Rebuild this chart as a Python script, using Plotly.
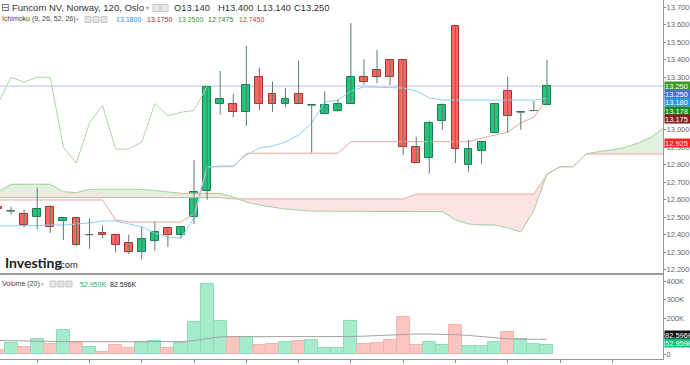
import plotly.graph_objects as go

# ---------------- data ----------------
opens  = [12.56, 12.535, 12.52, 12.50, 12.557, 12.48, 12.495, 12.40, 12.41, 12.40, 12.355, 12.30, 12.367, 12.437, 12.40,
          12.50, 12.65, 13.15, 13.15, 13.10, 13.30, 13.205, 13.15, 13.205, 13.14, 13.09, 13.11, 13.15, 13.30, 13.34,
          13.40, 13.40, 12.90, 12.84, 13.05, 13.595, 12.80, 12.88, 12.98, 13.22, 13.10, 13.11, 13.14]
highs  = [12.565, 12.56, 12.545, 12.67, 12.57, 12.495, 12.50, 12.495, 12.455, 12.40, 12.40, 12.445, 12.475, 12.44, 12.443,
          12.827, 13.25, 13.336, 13.205, 13.479, 13.355, 13.275, 13.24, 13.395, 13.14, 13.22, 13.174, 13.61, 13.403, 13.456,
          13.40, 13.40, 12.96, 13.052, 13.151, 13.60, 12.942, 12.93, 13.15, 13.303, 13.10, 13.165, 13.40]
lows   = [12.545, 12.515, 12.445, 12.43, 12.41, 12.37, 12.335, 12.32, 12.38, 12.30, 12.29, 12.26, 12.31, 12.33, 12.38,
          12.462, 12.60, 13.087, 13.071, 13.022, 13.113, 13.103, 13.129, 13.15, 12.87, 13.09, 13.103, 13.15, 13.256, 13.266,
          13.256, 12.855, 12.81, 12.75, 12.999, 12.81, 12.76, 12.805, 12.98, 12.983, 13.00, 13.11, 13.14]
closes = [12.55, 12.535, 12.455, 12.545, 12.446, 12.495, 12.34, 12.40, 12.40, 12.34, 12.30, 12.375, 12.418, 12.40, 12.443,
          12.646, 13.245, 13.175, 13.10, 13.254, 13.15, 13.15, 13.175, 13.15, 13.14, 13.14, 13.15, 13.30, 13.273, 13.30,
          13.30, 12.90, 12.81, 13.04, 13.14, 12.89, 12.89, 12.93, 13.15, 13.08, 13.10, 13.11, 13.25]
volume_k = [24, 62, 38, 83, 57, 134, 60, 40, 14, 53, 35, 68, 75, 33, 60, 178, 386, 185, 97, 97, 51, 57, 68, 73, 79,
            35, 35, 183, 57, 62, 79, 205, 51, 70, 51, 161, 46, 48, 68, 123, 83, 57, 52.959]
volume_ma_k = [76, 74, 72, 71, 70, 70, 70, 69, 67, 66, 66, 68, 70, 70, 70, 76, 88, 96, 97, 97, 97, 97, 97, 98, 99,
               96, 95, 98, 100, 103, 108, 111, 112, 112, 111, 108, 104, 98, 90, 85, 83, 83, 82.596]
tenkan = [12.45, 12.45, 12.45, 12.453, 12.456, 12.456, 12.462, 12.468, 12.479, 12.479, 12.462, 12.445, 12.41, 12.387,
          12.381, 12.496, 12.787, 12.793, 12.793, 12.856, 12.896, 12.907, 12.93, 12.97, 13.039, 13.159, 13.17, 13.222,
          13.245, 13.242, 13.241, 13.239, 13.222, 13.182, 13.17, 13.17, 13.17, 13.17, 13.17, 13.17, 13.17, 13.17, 13.18]
kijun = [12.599, 12.599, 12.599, 12.599, 12.599, 12.599, 12.599, 12.599, 12.599, 12.485, 12.473, 12.473, 12.473, 12.473,
         12.473, 12.519, 12.787, 12.789, 12.789, 12.866, 12.866, 12.866, 12.866, 12.866, 12.866, 12.866, 12.866, 12.932,
         12.932, 12.932, 12.932, 12.932, 12.932, 12.932, 12.932, 12.932, 12.932, 12.953, 12.97, 12.987, 13.039, 13.073, 13.175]
senkou_a = [12.645, 12.689, 12.689, 12.689, 12.689, 12.646, 12.641, 12.66, 12.66, 12.66, 12.66, 12.66, 12.653, 12.646,
            12.637, 12.637, 12.637, 12.637, 12.616, 12.587, 12.570, 12.559, 12.547, 12.541, 12.535, 12.535, 12.535,
            12.535, 12.532, 12.532, 12.532, 12.532, 12.532, 12.532, 12.532, 12.485, 12.462, 12.456, 12.456, 12.439,
            12.416, 12.541, 12.7475, 12.789, 12.789, 12.862, 12.876, 12.885, 12.90, 12.925, 12.959, 13.016]
senkou_b = [12.613] * 18 + [12.605] * 14 + [12.633] * 10 + [12.745, 12.789, 12.789] + [12.862] * 7
lag_shift = 26
last_price = 13.25
price_ticks = [12.2, 12.3, 12.4, 12.5, 12.6, 12.7, 12.8, 12.9, 13.0, 13.1, 13.2, 13.3, 13.4, 13.5, 13.6, 13.7]
vol_ticks = [0, 100, 200, 300, 400]
vol_tick_text = ["0", "100K", "200K", "300K", "400K"]
time_tick_idx = [3, 7, 11, 15, 19, 23, 27, 31, 35, 39, 43, 47]
time_tick_text = ["10", "", "", "", "", "", "2020", "", "", "", "", ""]

# ---------------- geometry ----------------
W, H = 690, 365
ML, MR, MT, MB = 0, 27, 0, 6
PW, PH = W - ML - MR, H - MT - MB
def X(px): return (px - ML) / PW
def Y(py): return 1 - (py - MT) / PH
def price_at(py): return 13.7 - (py - 7.3) / 175.0
def vol_at(py): return (354.3 - py) / 18.15 * 100.0
SEP = 274
XR = [2 / 13.07, 2 / 13.07 + PW / 13.07]

n = len(opens)
idx = list(range(n))
up = [c >= o for o, c in zip(opens, closes)]

GREEN, GREEN_E = "#1fc67c", "#17804f"
RED, RED_E = "#fb6660", "#a5342e"
WICK = "#5e7a6c"

fig = go.Figure()

# ---- cloud fill ----
def cloud_runs(a, b):
    pts = []
    for k in range(len(a)):
        if k > 0:
            d0, d1 = a[k-1] - b[k-1], a[k] - b[k]
            if d0 * d1 < 0:
                t = d0 / (d0 - d1)
                xc = k - 1 + t
                yc = a[k-1] + t * (a[k] - a[k-1])
                pts.append((xc, yc, yc))
        pts.append((k, a[k], b[k]))
    runs, cur, sign = [], [], None
    for p in pts:
        d = p[1] - p[2]
        s = sign if abs(d) < 1e-9 else (d > 0)
        if sign is None:
            sign = s
        if s != sign:
            cur.append(p)
            runs.append((sign, cur))
            cur = [p]
            sign = s
        else:
            cur.append(p)
    runs.append((sign, cur))
    return runs

gx, gy, rx, ry = [], [], [], []
for s, run in cloud_runs(senkou_a, senkou_b):
    xs = [p[0] for p in run] + [p[0] for p in reversed(run)]
    ys = [p[1] for p in run] + [p[2] for p in reversed(run)]
    if s:
        gx += xs + [None]; gy += ys + [None]
    else:
        rx += xs + [None]; ry += ys + [None]
fig.add_trace(go.Scatter(x=gx, y=gy, fill="toself", fillcolor="#e2f1df", line=dict(width=0),
                         mode="lines", hoverinfo="skip", showlegend=False))
fig.add_trace(go.Scatter(x=rx, y=ry, fill="toself", fillcolor="#fde3e3", line=dict(width=0),
                         mode="lines", hoverinfo="skip", showlegend=False))
fig.add_trace(go.Scatter(x=list(range(len(senkou_b))), y=senkou_b, mode="lines",
                         line=dict(color="#f2a7a7", width=1), showlegend=False))
fig.add_trace(go.Scatter(x=list(range(len(senkou_a))), y=senkou_a, mode="lines",
                         line=dict(color="#9fd09a", width=1), showlegend=False))

# price line
fig.add_shape(type="line", xref="paper", x0=0, x1=1, yref="y", y0=last_price, y1=last_price,
              line=dict(color="#b9c0ea", width=1), layer="below")

# lagging span
lag_x = [i - lag_shift for i in range(lag_shift, n)]
fig.add_trace(go.Scatter(x=lag_x, y=closes[lag_shift:], mode="lines",
                         line=dict(color="#a9d9a3", width=1), showlegend=False))
# tenkan / kijun
fig.add_trace(go.Scatter(x=idx, y=kijun, mode="lines", line=dict(color="#eaa3a0", width=1), showlegend=False))
fig.add_trace(go.Scatter(x=idx, y=tenkan, mode="lines", line=dict(color="#93cdf3", width=1), showlegend=False))

# wicks (+ doji bars)
wx, wy = [], []
for i in idx:
    wx += [i, i, None]; wy += [lows[i], highs[i], None]
    if abs(opens[i] - closes[i]) < 1e-9:
        wx += [i - 0.3, i + 0.3, None]; wy += [opens[i], opens[i], None]
fig.add_trace(go.Scatter(x=wx, y=wy, mode="lines", line=dict(color=WICK, width=1), showlegend=False))

# bodies
fig.add_trace(go.Bar(x=idx, y=[abs(c - o) for o, c in zip(opens, closes)],
                     base=[min(o, c) for o, c in zip(opens, closes)], width=0.6,
                     marker=dict(color=[GREEN if u else RED for u in up],
                                 line=dict(color=[GREEN_E if u else RED_E for u in up], width=1)),
                     showlegend=False))

# volume
fig.add_trace(go.Bar(x=idx, y=volume_k, width=1.0, xaxis="x2", yaxis="y2",
                     marker=dict(color=["#a7ebcd" if u else "#fdc5c0" for u in up],
                                 line=dict(color=["#8fdcbc" if u else "#f7b3ad" for u in up], width=1)),
                     showlegend=False))
fig.add_trace(go.Scatter(x=idx, y=volume_ma_k, mode="lines", xaxis="x2", yaxis="y2",
                         line=dict(color="#a3a3a3", width=1), showlegend=False))

FONT = "Liberation Sans"
AX_FONT = dict(size=7.5, color="#666", family=FONT)
fig.update_layout(
    width=W, height=H, margin=dict(l=ML, r=MR, t=MT, b=MB, autoexpand=False),
    paper_bgcolor="white", plot_bgcolor="white", barmode="overlay", bargap=0,
    font=dict(family=FONT, color="#444"),
    xaxis=dict(domain=[0, 1], range=XR, anchor="y", showgrid=False, zeroline=False,
               showticklabels=False, ticks="", automargin=False),
    xaxis2=dict(domain=[0, 1], range=XR, anchor="y2", showgrid=False, zeroline=False,
                tickmode="array", tickvals=time_tick_idx, ticktext=time_tick_text,
                ticks="outside", ticklen=3, tickcolor="#888", showline=True, linecolor="#999",
                tickfont=dict(size=8, color="#666", family=FONT), automargin=False),
    yaxis=dict(domain=[Y(SEP), 1], range=[price_at(SEP), price_at(0)], side="right",
               showgrid=False, zeroline=False, tickmode="array", tickvals=price_ticks,
               ticktext=["%.3f" % t for t in price_ticks], ticks="outside", ticklen=2,
               tickcolor="#888", showline=True, linecolor="#999", tickfont=AX_FONT,
               ticklabelstandoff=-1, automargin=False),
    yaxis2=dict(domain=[0, Y(SEP)], range=[vol_at(PH + MT), vol_at(SEP)], side="right",
                showgrid=False, zeroline=False, tickmode="array", tickvals=vol_ticks,
                ticktext=vol_tick_text, ticks="outside", ticklen=2, tickcolor="#888",
                showline=True, linecolor="#999", tickfont=AX_FONT, ticklabelstandoff=-1,
                automargin=False),
)

# separator between panes
fig.add_shape(type="line", xref="paper", yref="paper", x0=0, x1=1, y0=Y(SEP), y1=Y(SEP),
              line=dict(color="#9a9a9a", width=2))

ann = []
def txt(px, py, s, size, color, bold=False, family=FONT):
    ann.append(dict(x=X(px), y=Y(py), xref="paper", yref="paper", text=("<b>%s</b>" % s) if bold else s,
                    showarrow=False, xanchor="left", yanchor="middle", borderpad=0,
                    font=dict(size=size, color=color, family=family)))

def icon(px, py, w=7, h=7):
    fig.add_shape(type="rect", xref="paper", yref="paper", x0=X(px), x1=X(px + w), y0=Y(py + h / 2),
                  y1=Y(py - h / 2), line=dict(color="#c8c8c8", width=1), fillcolor="#e6e6e6")

# header
txt(0, 8, "⊟", 10, "#555", family="DejaVu Sans")
txt(11, 8, "Funcom NV, Norway, 120, Oslo", 9.5, "#333")
txt(145, 8, "▾", 6, "#999", family="DejaVu Sans")
icon(153, 8); icon(161, 8)
txt(173, 8, "O13.140", 9.4, "#333")
txt(217, 8, "H13.400", 9.4, "#333")
txt(256, 8, "L13.140", 9.4, "#333")
txt(293, 8, "C13.250", 9.4, "#333")

txt(1, 19.5, "Ichimoku (9, 26, 52, 26)", 7, "#444")
txt(75, 19.5, "▾", 5, "#999", family="DejaVu Sans")
icon(85, 19.5, 6, 6); icon(93, 19.5, 6, 6); icon(101, 19.5, 6, 6)
txt(115, 19.5, "13.1800", 7, "#1e90e8")
txt(146, 19.5, "13.1750", 7, "#a8282a")
txt(177, 19.5, "13.2500", 7, "#3d9c2e")
txt(207, 19.5, "12.7475", 7, "#2e8b2e")
txt(238, 19.5, "12.7450", 7, "#e23030")

txt(1, 284, "Volume (20)", 7, "#444")
txt(40, 284, "▾", 5, "#999", family="DejaVu Sans")
icon(50, 284, 6, 6); icon(58, 284, 6, 6); icon(66, 284, 6, 6)
txt(79, 284, "52.959K", 7, "#14b877")
txt(109, 284, "82.596K", 7, "#222")

# logo
txt(4, 262, "Investing", 14, "#1b1b1b", bold=True, family="Lato")
txt(57, 264, ".com", 9.5, "#333", family="Lato")

# right-hand value boxes
def box(py, s, bg):
    ann.append(dict(x=X(664), y=Y(py), xref="paper", yref="paper", text=s, showarrow=False,
                    xanchor="left", yanchor="middle", align="left", width=30, height=8,
                    bgcolor=bg, borderpad=0, font=dict(size=7.5, color="white", family=FONT)))
box(86.3, "13.250", "#3a9a22")
box(94.3, "13.250", "#4b6ed2")
box(102.3, "13.180", "#2498e4")
box(110.6, "13.178", "#198a19")
box(118.8, "13.175", "#8a1c1c")
box(143.2, "12.925", "#ff2020")
box(335, "82.596K", "#111111")
box(343, "52.959K", "#16c07a")

fig.update_layout(annotations=ann)
fig.write_html("out.html", config={"displayModeBar": False},
               post_script="document.body.style.margin='0px';document.body.style.overflow='hidden';")
